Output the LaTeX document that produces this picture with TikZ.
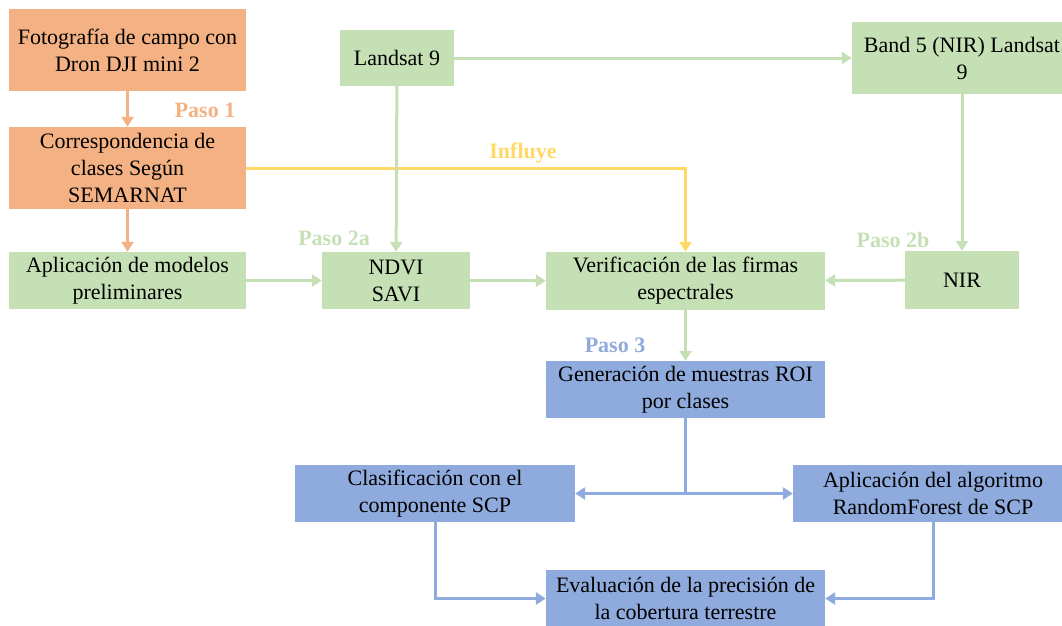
\documentclass[tikz,border=0pt]{standalone}
\usepackage{fontspec}
\setmainfont{Liberation Serif}
\usetikzlibrary{arrows.meta}

\definecolor{naranja}{HTML}{F4B183}
\definecolor{verde}{HTML}{C5E0B4}
\definecolor{azul}{HTML}{8FAADC}
\definecolor{amarillo}{HTML}{FFD966}

\begin{document}
\begin{tikzpicture}[x=1pt, y=-1pt,
  every node/.style={font=\fontsize{22}{27}\selectfont, align=center, inner sep=0pt},
  naranjabox/.style={rectangle, fill=naranja},
  verdebox/.style={rectangle, fill=verde},
  azulbox/.style={rectangle, fill=azul},
  pasolabel/.style={font=\fontsize{22}{27}\selectfont\bfseries},
  flecha/.style={line width=3pt, -{Triangle[length=10pt,width=12pt]}}]

\useasboundingbox (0,0) rectangle (1062,625);

% Paso 1
\node[naranjabox, minimum width=237, minimum height=82] (foto) at (127.5,50) {Fotografía de campo con\\Dron DJI mini 2};
\node[naranjabox, minimum width=237, minimum height=82] (corr) at (127.5,168) {Correspondencia de\\clases Según\\SEMARNAT};
\node[verdebox, minimum width=237, minimum height=57] (apli) at (127.5,280.5) {Aplicación de modelos\\preliminares};

% Paso 2
\node[verdebox, minimum width=114, minimum height=56] (landsat) at (397,58) {Landsat 9};
\node[verdebox, minimum width=220, minimum height=72] (band) at (962,58) {Band 5 (NIR) Landsat\\9};
\node[verdebox, minimum width=148, minimum height=57] (ndvi) at (396,280.5) {NDVI\\SAVI};
\node[verdebox, minimum width=279, minimum height=58] (verif) at (685.5,281) {Verificación de las firmas\\espectrales};
\node[verdebox, minimum width=114, minimum height=58] (nir) at (962,280) {NIR};

% Paso 3
\node[azulbox, minimum width=279, minimum height=57] (gen) at (685.5,389.5) {Generación de muestras ROI\\por clases};
\node[azulbox, minimum width=280, minimum height=57] (clas) at (435,493.5) {Clasificación con el\\componente SCP};
\node[azulbox, minimum width=280, minimum height=57] (alg) at (933,493.5) {Aplicación del algoritmo\\RandomForest de SCP};
\node[azulbox, minimum width=279, minimum height=57] (eval) at (685.5,598.5) {Evaluación de la precisión de\\la cobertura terrestre};

% etiquetas
\node[pasolabel, text=naranja] (paso1) at (205,110) {Paso 1};
\node[pasolabel, text=amarillo] (influye) at (523,153) {Influye};
\node[pasolabel, text=verde] (paso2a) at (334,238) {Paso 2a};
\node[pasolabel, text=verde] (paso2b) at (893,240) {Paso 2b};
\node[pasolabel, text=azul] (paso3) at (615,345) {Paso 3};

% conectores
\draw[flecha, naranja] (foto) -- (corr);
\draw[flecha, naranja] (corr) -- (apli);
\draw[flecha, amarillo] (corr.east) -| (verif.north);
\draw[flecha, verde] (apli) -- (ndvi);
\draw[flecha, verde] (landsat) -- (ndvi);
\draw[flecha, verde] (landsat) -- (band);
\draw[flecha, verde] (band) -- (nir);
\draw[flecha, verde] (ndvi) -- (verif);
\draw[flecha, verde] (nir) -- (verif);
\draw[flecha, verde] (verif) -- (gen);
\draw[flecha, azul] (gen.south) |- (clas.east);
\draw[flecha, azul] (gen.south) |- (alg.west);
\draw[flecha, azul] (clas.south) |- (eval.west);
\draw[flecha, azul] (alg.south) |- (eval.east);

\end{tikzpicture}
\end{document}
